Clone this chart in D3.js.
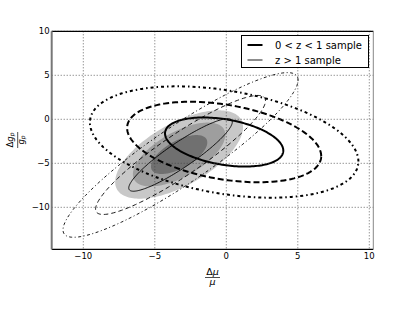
<!DOCTYPE html>
<html>
<head>
<meta charset="utf-8">
<script src="https://cdn.jsdelivr.net/npm/d3@7"></script>
<style>
    body { margin: 0; background: #fff; }
    text { font-family: "DejaVu Sans", sans-serif; }
</style>
</head>
<body>
<div id="chart"></div>
<script>
// ellipse parameters (data units)
const samples = ["0 < z < 1 sample", "z > 1 sample", "combined"];
const centerX = [-0.15, -3.2, -3.3];
const centerY = [-2.58, -4.05, -4.0];
const sigmaX = [2.73, 2.39, 1.3];
const sigmaY = [1.84, 2.72, 1.46];
const rho = [-0.35, 0.91, 0.62];
// 1, 2, 3 sigma for two parameters
const levels = [1.515, 2.486, 3.439];
const xTicks = [-10, -5, 0, 5, 10];
const yTicks = [-10, -5, 0, 5, 10];

const margin = { top: 31.3, right: 41.7, bottom: 62.7, left: 51.7 };
const width = 415 - margin.left - margin.right;
const height = 312 - margin.top - margin.bottom;

const svg = d3.select("#chart")
    .append("svg")
    .attr("width", 415)
    .attr("height", 312);

const g = svg.append("g")
    .attr("transform", `translate(${margin.left},${margin.top})`);

const x = d3.scaleLinear().domain([-12.21, 10.28]).range([0, width]);
const y = d3.scaleLinear().domain([-14.77, 10]).range([height, 0]);

// points of the k-sigma ellipse of sample i
function ellipse(i, k) {
    const s = Math.sqrt(1 - rho[i] * rho[i]);
    return d3.range(0, 361, 2).map(a => {
        const t = a * Math.PI / 180;
        return [centerX[i] + k * sigmaX[i] * Math.cos(t),
                centerY[i] + k * sigmaY[i] * (rho[i] * Math.cos(t) + s * Math.sin(t))];
    });
}

const line = d3.line().x(d => x(d[0])).y(d => y(d[1]));

g.append("clipPath").attr("id", "clip")
    .append("rect").attr("width", width).attr("height", height);

const plot = g.append("g").attr("clip-path", "url(#clip)");

// filled contours, 3 sigma first (1 sigma darkest)
const fills = ["#707070", "#9e9e9e", "#c8c8c8"];
[2, 1, 0].forEach(j => {
    plot.append("path")
        .attr("d", line(ellipse(2, levels[j])) + "Z")
        .attr("fill", fills[j])
        .attr("stroke", "none");
});

// grid
g.selectAll(".gx")
    .data(xTicks)
    .enter()
    .append("line")
    .attr("x1", d => x(d)).attr("x2", d => x(d))
    .attr("y1", 0).attr("y2", height)
    .attr("stroke", "#444")
    .attr("stroke-width", 0.8)
    .attr("stroke-dasharray", "1,2");

g.selectAll(".gy")
    .data(yTicks)
    .enter()
    .append("line")
    .attr("y1", d => y(d)).attr("y2", d => y(d))
    .attr("x1", 0).attr("x2", width)
    .attr("stroke", "#444")
    .attr("stroke-width", 0.8)
    .attr("stroke-dasharray", "1,2");

// contour lines
const dashes = ["none", "6,3", "3,3,1.5,3"];
const thinDashes = ["none", "4.5,3", "3,2.5,1,2.5"];
levels.forEach((k, j) => {
    plot.append("path")
        .attr("d", line(ellipse(0, k)) + "Z")
        .attr("fill", "none")
        .attr("stroke", "#000")
        .attr("stroke-width", 2)
        .attr("stroke-dasharray", dashes[j]);
    plot.append("path")
        .attr("d", line(ellipse(1, k)) + "Z")
        .attr("fill", "none")
        .attr("stroke", "#000")
        .attr("stroke-width", 0.9)
        .attr("stroke-dasharray", thinDashes[j]);
});

// frame
g.append("line").attr("x1", 0).attr("x2", width).attr("y1", 0).attr("y2", 0)
    .attr("stroke", "#000").attr("stroke-width", 1.2);
g.append("line").attr("x1", 0).attr("x2", width).attr("y1", height).attr("y2", height)
    .attr("stroke", "#000").attr("stroke-width", 1.2);
g.append("line").attr("x1", 0).attr("x2", 0).attr("y1", 0).attr("y2", height)
    .attr("stroke", "#777").attr("stroke-width", 2);
g.append("line").attr("x1", width).attr("x2", width).attr("y1", 0).attr("y2", height)
    .attr("stroke", "#888").attr("stroke-width", 1);

// tick labels
g.selectAll(".xl")
    .data(xTicks)
    .enter()
    .append("text")
    .attr("x", d => x(d))
    .attr("y", height + 10)
    .attr("text-anchor", "middle")
    .attr("font-size", "8.5px")
    .text(d => d < 0 ? "\u2212" + Math.abs(d) : d);

g.selectAll(".yl")
    .data(yTicks)
    .enter()
    .append("text")
    .attr("x", -2)
    .attr("y", d => y(d) + 3)
    .attr("text-anchor", "end")
    .attr("font-size", "8.5px")
    .text(d => d < 0 ? "\u2212" + Math.abs(d) : d);

// x label: Δμ / μ
const xl = svg.append("g").attr("transform", "translate(212.5,277.5)");
xl.append("text").attr("x", 0).attr("y", -2.5).attr("text-anchor", "middle")
    .attr("font-size", "9.5px")
    .html('Δ<tspan font-style="italic">μ</tspan>');
xl.append("line").attr("x1", -7.5).attr("x2", 7.5).attr("y1", 0).attr("y2", 0)
    .attr("stroke", "#000").attr("stroke-width", 0.7);
xl.append("text").attr("x", 0).attr("y", 7).attr("text-anchor", "middle")
    .attr("font-size", "9.5px").attr("font-style", "italic").text("μ");

// y label: Δg_p / g_p
const yl = svg.append("g").attr("transform", "translate(17.7,140) rotate(-90)");
yl.append("text").attr("x", 0).attr("y", -5).attr("text-anchor", "middle")
    .attr("font-size", "8.5px")
    .html('Δ<tspan font-style="italic">g</tspan><tspan font-style="italic" font-size="6px" dy="1.5">p</tspan>');
yl.append("line").attr("x1", -8).attr("x2", 8).attr("y1", 0).attr("y2", 0)
    .attr("stroke", "#000").attr("stroke-width", 0.7);
yl.append("text").attr("x", 0).attr("y", 6).attr("text-anchor", "middle")
    .attr("font-size", "8.5px")
    .html('<tspan font-style="italic">g</tspan><tspan font-style="italic" font-size="6px" dy="1.5">p</tspan>');

// legend
const lg = svg.append("g").attr("transform", "translate(241.5,35.5)");
lg.append("rect").attr("width", 127).attr("height", 32)
    .attr("fill", "#fff").attr("stroke", "#000").attr("stroke-width", 1);
[0, 1].forEach(i => {
    lg.append("line")
        .attr("x1", 6).attr("x2", 21)
        .attr("y1", 9.5 + i * 15).attr("y2", 9.5 + i * 15)
        .attr("stroke", "#000")
        .attr("stroke-width", i === 0 ? 2 : 0.9);
    lg.append("text")
        .attr("x", 33.5)
        .attr("y", 13.5 + i * 14.5)
        .attr("font-size", "10px")
        .text(samples[i]);
});
</script>
</body>
</html>
